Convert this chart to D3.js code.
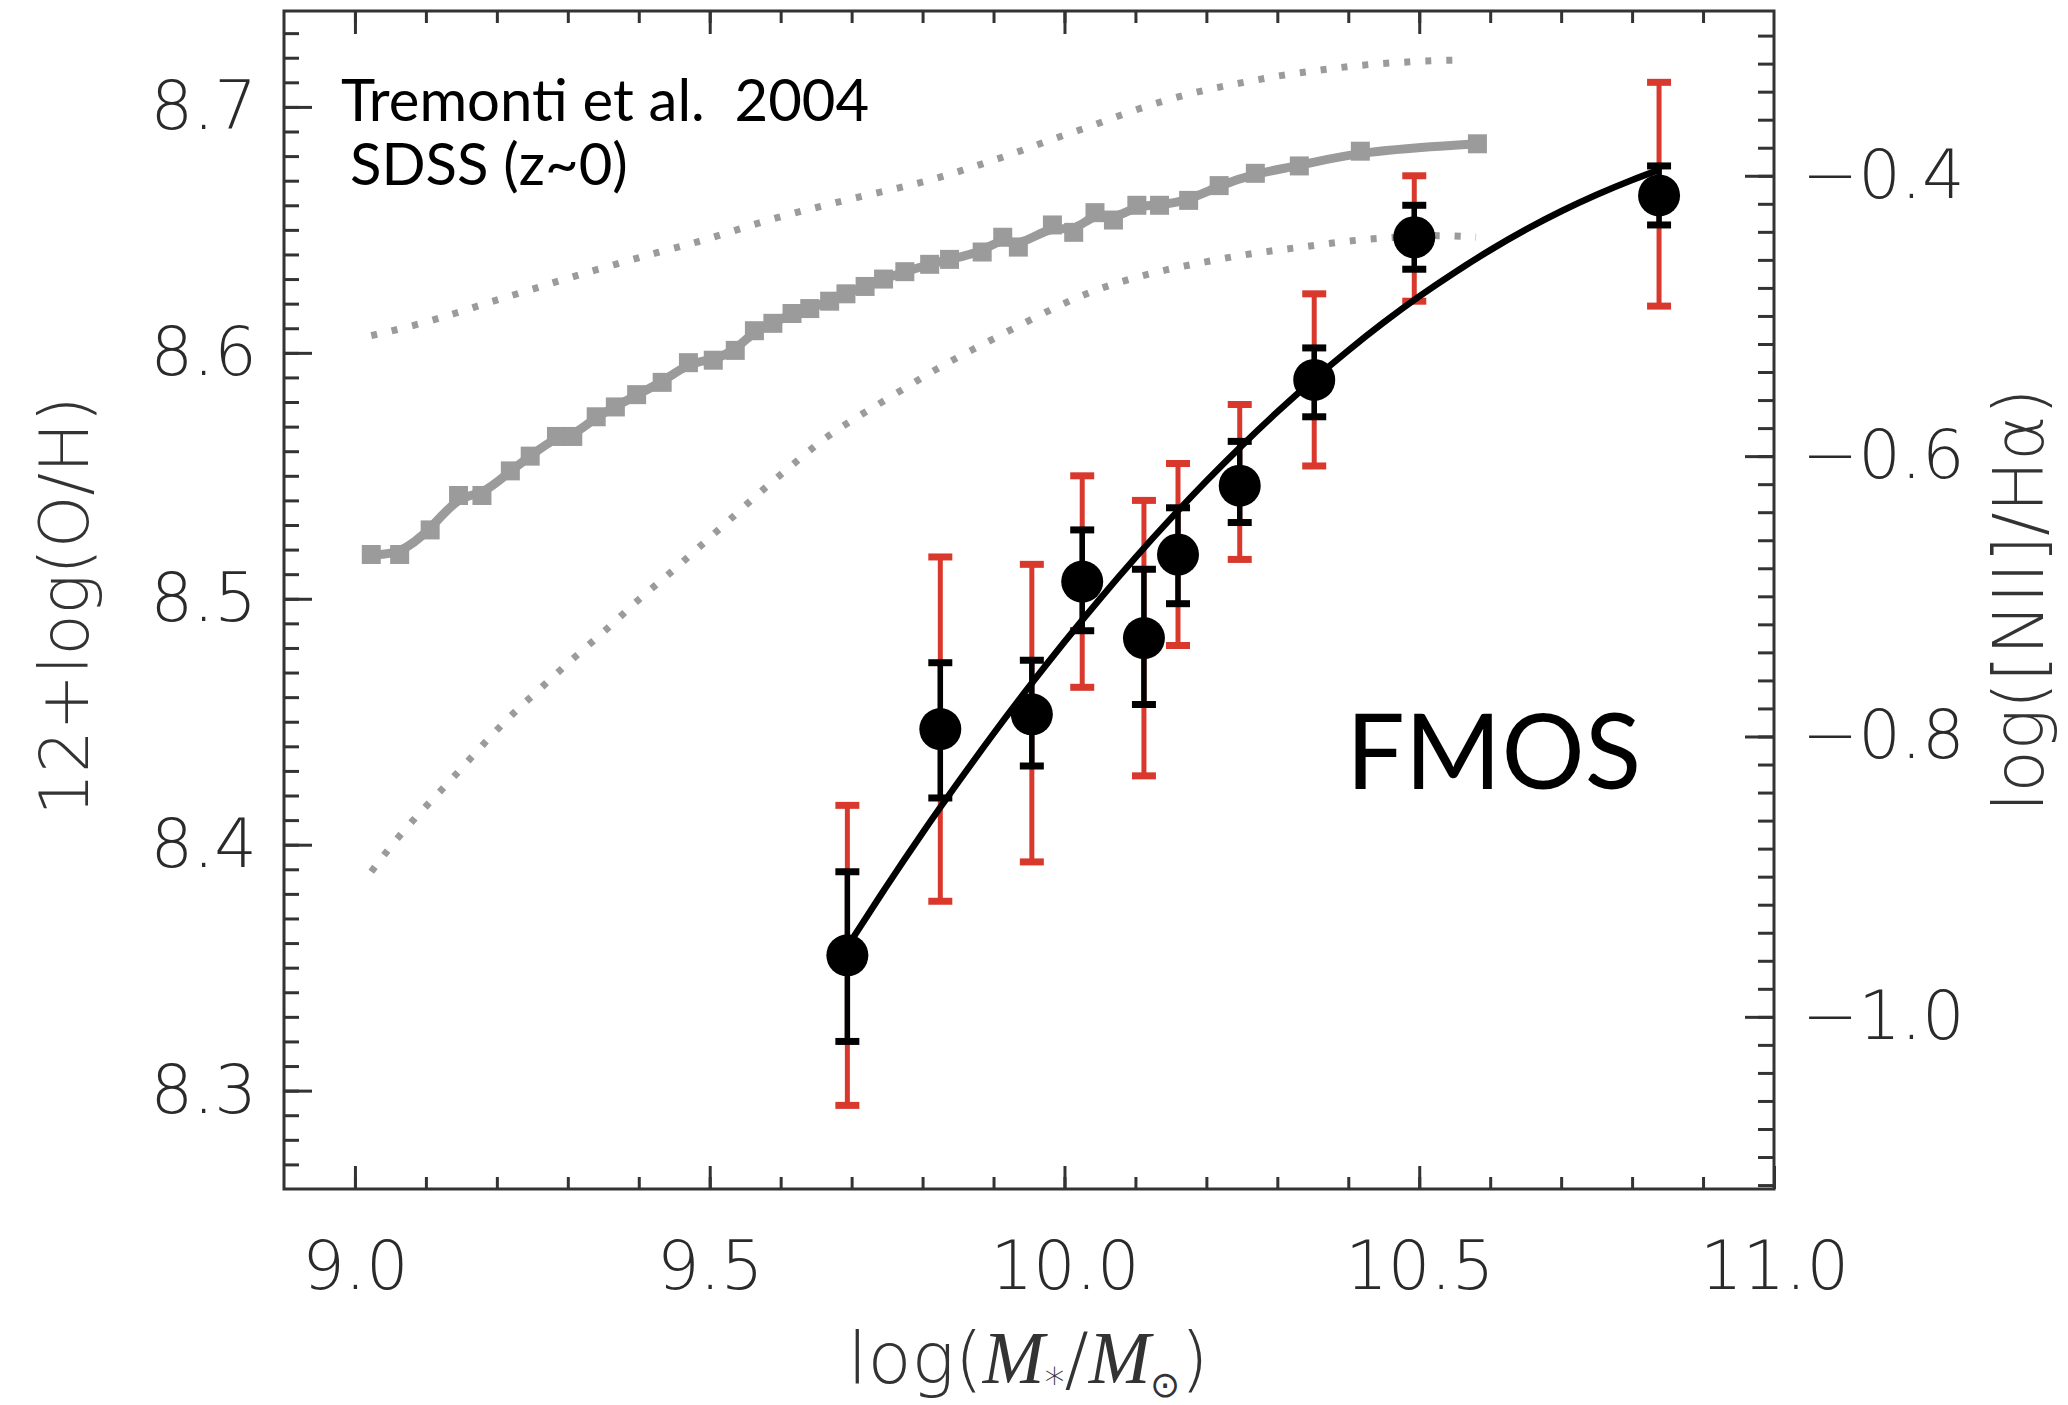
<!DOCTYPE html>
<html><head><meta charset="utf-8">
<script src="https://cdn.jsdelivr.net/npm/d3@7"></script>
<style>body{margin:0;background:#fff}svg{display:block}</style>
</head><body>
<svg id="c" width="2068" height="1405"></svg>
<script>
// ---- FMOS stacked points (log M*, 12+log(O/H)) ----
const fmosMass = [9.694, 9.825, 9.954, 10.025, 10.112, 10.160, 10.247, 10.352, 10.493, 10.838];
const fmosOH   = [8.355, 8.447, 8.453, 8.507, 8.484, 8.518, 8.546, 8.589, 8.647, 8.664];
const fmosBlackLo = [8.320, 8.419, 8.432, 8.487, 8.457, 8.498, 8.531, 8.574, 8.634, 8.652];
const fmosBlackHi = [8.389, 8.474, 8.475, 8.528, 8.512, 8.537, 8.564, 8.602, 8.660, 8.676];
const fmosRedLo   = [8.294, 8.377, 8.393, 8.464, 8.428, 8.481, 8.516, 8.554, 8.621, 8.619];
const fmosRedHi   = [8.416, 8.517, 8.514, 8.550, 8.540, 8.555, 8.579, 8.624, 8.672, 8.710];

// ---- FMOS fit curve ----
const fitMass = [9.69, 9.75, 9.80, 9.85, 9.90, 9.95, 10.00, 10.05, 10.10, 10.15, 10.20, 10.25, 10.30, 10.35, 10.40, 10.45, 10.50, 10.55, 10.60, 10.65, 10.70, 10.75, 10.80, 10.84];
const fitOH   = [8.3568, 8.3836, 8.4050, 8.4254, 8.4453, 8.4643, 8.4826, 8.5001, 8.5169, 8.5328, 8.5480, 8.5624, 8.5761, 8.5890, 8.6011, 8.6125, 8.6231, 8.6328, 8.6419, 8.6502, 8.6577, 8.6644, 8.6704, 8.6746];

// ---- SDSS (Tremonti et al. 2004) median squares ----
const sdssMass = [9.023, 9.063, 9.106, 9.146, 9.179, 9.219, 9.247, 9.284, 9.307, 9.340, 9.367, 9.397, 9.433, 9.470, 9.505, 9.536, 9.563, 9.589, 9.616, 9.641, 9.669, 9.692, 9.719, 9.745, 9.775, 9.810, 9.838, 9.884, 9.913, 9.935, 9.983, 10.013, 10.043, 10.069, 10.102, 10.134, 10.175, 10.218, 10.269, 10.331, 10.417, 10.582];
const sdssOH   = [8.518, 8.518, 8.528, 8.542, 8.542, 8.552, 8.558, 8.566, 8.566, 8.574, 8.578, 8.583, 8.588, 8.596, 8.597, 8.601, 8.609, 8.612, 8.616, 8.618, 8.621, 8.624, 8.627, 8.630, 8.633, 8.636, 8.638, 8.641, 8.647, 8.643, 8.652, 8.649, 8.657, 8.654, 8.660, 8.660, 8.662, 8.668, 8.673, 8.676, 8.682, 8.685];

// ---- SDSS upper / lower envelopes (dotted) ----
const upperMass = [9.023, 9.083, 9.141, 9.194, 9.252, 9.307, 9.367, 9.428, 9.483, 9.538, 9.594, 9.649, 9.704, 9.766, 9.822, 9.875, 9.929, 9.983, 10.037, 10.091, 10.145, 10.199, 10.253, 10.307, 10.361, 10.414, 10.468, 10.522, 10.566];
const upperOH   = [8.607, 8.611, 8.616, 8.621, 8.626, 8.631, 8.636, 8.641, 8.645, 8.650, 8.655, 8.659, 8.663, 8.667, 8.671, 8.676, 8.681, 8.687, 8.692, 8.698, 8.703, 8.707, 8.710, 8.713, 8.715, 8.717, 8.718, 8.719, 8.719];
const lowerMass = [9.023, 9.060, 9.101, 9.141, 9.181, 9.221, 9.267, 9.312, 9.357, 9.400, 9.443, 9.485, 9.528, 9.573, 9.619, 9.664, 9.714, 9.766, 9.822, 9.875, 9.929, 9.983, 10.037, 10.091, 10.145, 10.199, 10.253, 10.307, 10.361, 10.414, 10.468, 10.522, 10.580];
const lowerOH   = [8.389, 8.403, 8.416, 8.428, 8.441, 8.453, 8.465, 8.477, 8.488, 8.500, 8.510, 8.521, 8.532, 8.544, 8.555, 8.566, 8.575, 8.584, 8.594, 8.602, 8.610, 8.618, 8.625, 8.630, 8.634, 8.637, 8.640, 8.642, 8.644, 8.646, 8.647, 8.648, 8.647];

// ---- tick values ----
const xMajorTicks = [9.0, 9.5, 10.0, 10.5, 11.0];
const xMinorTicks = [9.0, 9.1, 9.2, 9.3, 9.4, 9.5, 9.6, 9.7, 9.8, 9.9, 10.0, 10.1, 10.2, 10.3, 10.4, 10.5, 10.6, 10.7, 10.8, 10.9];
const yMajorTicks = [8.3, 8.4, 8.5, 8.6, 8.7];
const n2MajorTicks = [-0.4, -0.6, -0.8, -1.0];

// N2 calibration used for the right-hand axis: 12+log(O/H) = 8.90 + 0.57 N2
const calibA = 8.90, calibB = 0.57;

const svg = d3.select('#c');
const x = d3.scaleLinear().domain([8.9, 11.0]).range([284, 1774]);
const y = d3.scaleLinear().domain([8.26, 8.739]).range([1189, 11]);
const toN2 = v => (v - calibA) / calibB;
const yR = d3.scaleLinear().domain([toN2(8.26), toN2(8.739)]).range([1189, 11]);

const yMinorTicks = d3.range(827, 874).map(v => v / 100);
const n2MinorTicks = d3.range(-112, -29, 2).map(v => v / 100);

const AX = '#333';
const tickFont = "'DejaVu Sans', sans-serif";

svg.append('rect').attr('width', 2068).attr('height', 1405).attr('fill', '#fff');

// ---- axes ----
function styleAxis(g) {
  g.select('.domain').remove();
  g.selectAll('line').attr('stroke', AX).attr('stroke-width', 3);
  g.selectAll('text').attr('font-family', tickFont).attr('font-weight', 200)
   .attr('font-size', 67).attr('fill', '#2a2a2a');
}
function noLabels(g) { g.selectAll('text').remove(); }

const gB = svg.append('g').attr('transform', `translate(0,${y.range()[0]})`);
gB.append('g').call(d3.axisBottom(x).tickValues(xMinorTicks).tickSize(-12)).call(styleAxis).call(noLabels);
gB.append('g').call(d3.axisBottom(x).tickValues(xMajorTicks).tickSize(-23).tickPadding(52).tickFormat(d3.format('.1f'))).call(styleAxis);

const gT = svg.append('g').attr('transform', `translate(0,${y.range()[1]})`);
gT.append('g').call(d3.axisTop(x).tickValues(xMinorTicks).tickSize(-12)).call(styleAxis).call(noLabels);
gT.append('g').call(d3.axisTop(x).tickValues(xMajorTicks.filter(d => d < 11)).tickSize(-23)).call(styleAxis).call(noLabels);

const gL = svg.append('g').attr('transform', `translate(${x.range()[0]},0)`);
gL.append('g').call(d3.axisLeft(y).tickValues(yMinorTicks).tickSize(-15)).call(styleAxis).call(noLabels);
gL.append('g').call(d3.axisLeft(y).tickValues(yMajorTicks).tickSize(-28).tickPadding(27).tickFormat(d3.format('.1f'))).call(styleAxis);

const gR = svg.append('g').attr('transform', `translate(${x.range()[1]},0)`);
gR.append('g').call(d3.axisRight(yR).tickValues(n2MinorTicks).tickSize(-16)).call(styleAxis).call(noLabels);
gR.append('g').call(d3.axisRight(yR).tickValues(n2MajorTicks).tickSize(-29).tickPadding(28).tickFormat(d3.format('.1f'))).call(styleAxis);

svg.append('rect')
  .attr('x', x.range()[0]).attr('y', y.range()[1])
  .attr('width', x.range()[1] - x.range()[0]).attr('height', y.range()[0] - y.range()[1])
  .attr('fill', 'none').attr('stroke', AX).attr('stroke-width', 3);

// ---- SDSS ----
const GRAY = '#9b9b9b';
const upper = upperMass.map((m, i) => [m, upperOH[i]]);
const lower = lowerMass.map((m, i) => [m, lowerOH[i]]);
const sdss = sdssMass.map((m, i) => [m, sdssOH[i]]);
const smooth = d3.line().x(d => x(d[0])).y(d => y(d[1])).curve(d3.curveBasis);

[upper, lower].forEach(arr => {
  svg.append('path').datum(arr).attr('d', smooth)
    .attr('fill', 'none').attr('stroke', GRAY).attr('stroke-width', 7)
    .attr('stroke-dasharray', '6,15');
});
svg.append('path').datum(sdss).attr('d', smooth)
  .attr('fill', 'none').attr('stroke', GRAY).attr('stroke-width', 9);
svg.append('g').selectAll('rect').data(sdss).join('rect')
  .attr('x', d => x(d[0]) - 9.5).attr('y', d => y(d[1]) - 9.5)
  .attr('width', 19).attr('height', 19).attr('fill', GRAY);

// ---- FMOS error bars ----
const RED = '#d9382c';
const pts = fmosMass.map((m, i) => ({m, v: fmosOH[i], bl: fmosBlackLo[i], bh: fmosBlackHi[i], rl: fmosRedLo[i], rh: fmosRedHi[i]}));
function bars(lo, hi, color, w) {
  const g = svg.append('g').attr('stroke', color);
  g.selectAll('line.v').data(pts).join('line').attr('class', 'v')
    .attr('x1', d => x(d.m)).attr('x2', d => x(d.m))
    .attr('y1', d => y(d[lo])).attr('y2', d => y(d[hi])).attr('stroke-width', w);
  [lo, hi].forEach(k => {
    g.selectAll('line.c' + k).data(pts).join('line').attr('class', 'c' + k)
      .attr('x1', d => x(d.m) - 12).attr('x2', d => x(d.m) + 12)
      .attr('y1', d => y(d[k])).attr('y2', d => y(d[k])).attr('stroke-width', 7);
  });
}
bars('rl', 'rh', RED, 5);
bars('bl', 'bh', '#000', 5.5);

// ---- fit curve ----
const fit = fitMass.map((m, i) => [m, fitOH[i]]);
svg.append('path').datum(fit)
  .attr('d', d3.line().x(d => x(d[0])).y(d => y(d[1])).curve(d3.curveBasis))
  .attr('fill', 'none').attr('stroke', '#000').attr('stroke-width', 6.5);

svg.append('g').selectAll('circle').data(pts).join('circle')
  .attr('cx', d => x(d.m)).attr('cy', d => y(d.v)).attr('r', 21).attr('fill', '#000');

// ---- axis titles ----
svg.append('text').attr('transform', 'translate(88,606) rotate(-90)')
  .attr('text-anchor', 'middle').attr('font-family', tickFont).attr('font-weight', 200)
  .attr('font-size', 67).attr('fill', '#333').text('12+log(O/H)');

svg.append('text').attr('transform', 'translate(2043,600) rotate(-90)')
  .attr('text-anchor', 'middle').attr('font-family', tickFont).attr('font-weight', 200)
  .attr('font-size', 69).attr('fill', '#333').text('log([NII]/Hα)');

const xt = svg.append('text').attr('x', 1028).attr('y', 1383).attr('text-anchor', 'middle')
  .attr('font-family', tickFont).attr('font-weight', 200).attr('font-size', 72).attr('fill', '#333');
xt.append('tspan').text('log(');
xt.append('tspan').attr('font-family', "'Liberation Serif', serif").attr('font-style', 'italic').attr('font-weight', 400).attr('font-size', 74).text('M');
xt.append('tspan').attr('font-size', 40).attr('dy', 14).text('*');
xt.append('tspan').attr('dy', -14).text('/');
xt.append('tspan').attr('font-family', "'Liberation Serif', serif").attr('font-style', 'italic').attr('font-weight', 400).attr('font-size', 74).text('M');
xt.append('tspan').attr('font-size', 36).attr('dy', 14).text('⊙');
xt.append('tspan').attr('dy', -14).text(')');

// ---- annotations ----
const annFont = "Lato, 'Open Sans', sans-serif";
const ann = svg.append('text').attr('font-family', annFont).attr('font-size', 58)
  .attr('fill', '#000').style('white-space', 'pre');
ann.append('tspan').attr('x', 341).attr('y', 121).text('Tremonti et al.  2004');
ann.append('tspan').attr('x', 350).attr('y', 185).text('SDSS (z~0)');
svg.append('text').attr('x', 1346).attr('y', 789).attr('font-family', annFont)
  .attr('font-size', 104).attr('fill', '#000').text('FMOS');
</script>
</body></html>
